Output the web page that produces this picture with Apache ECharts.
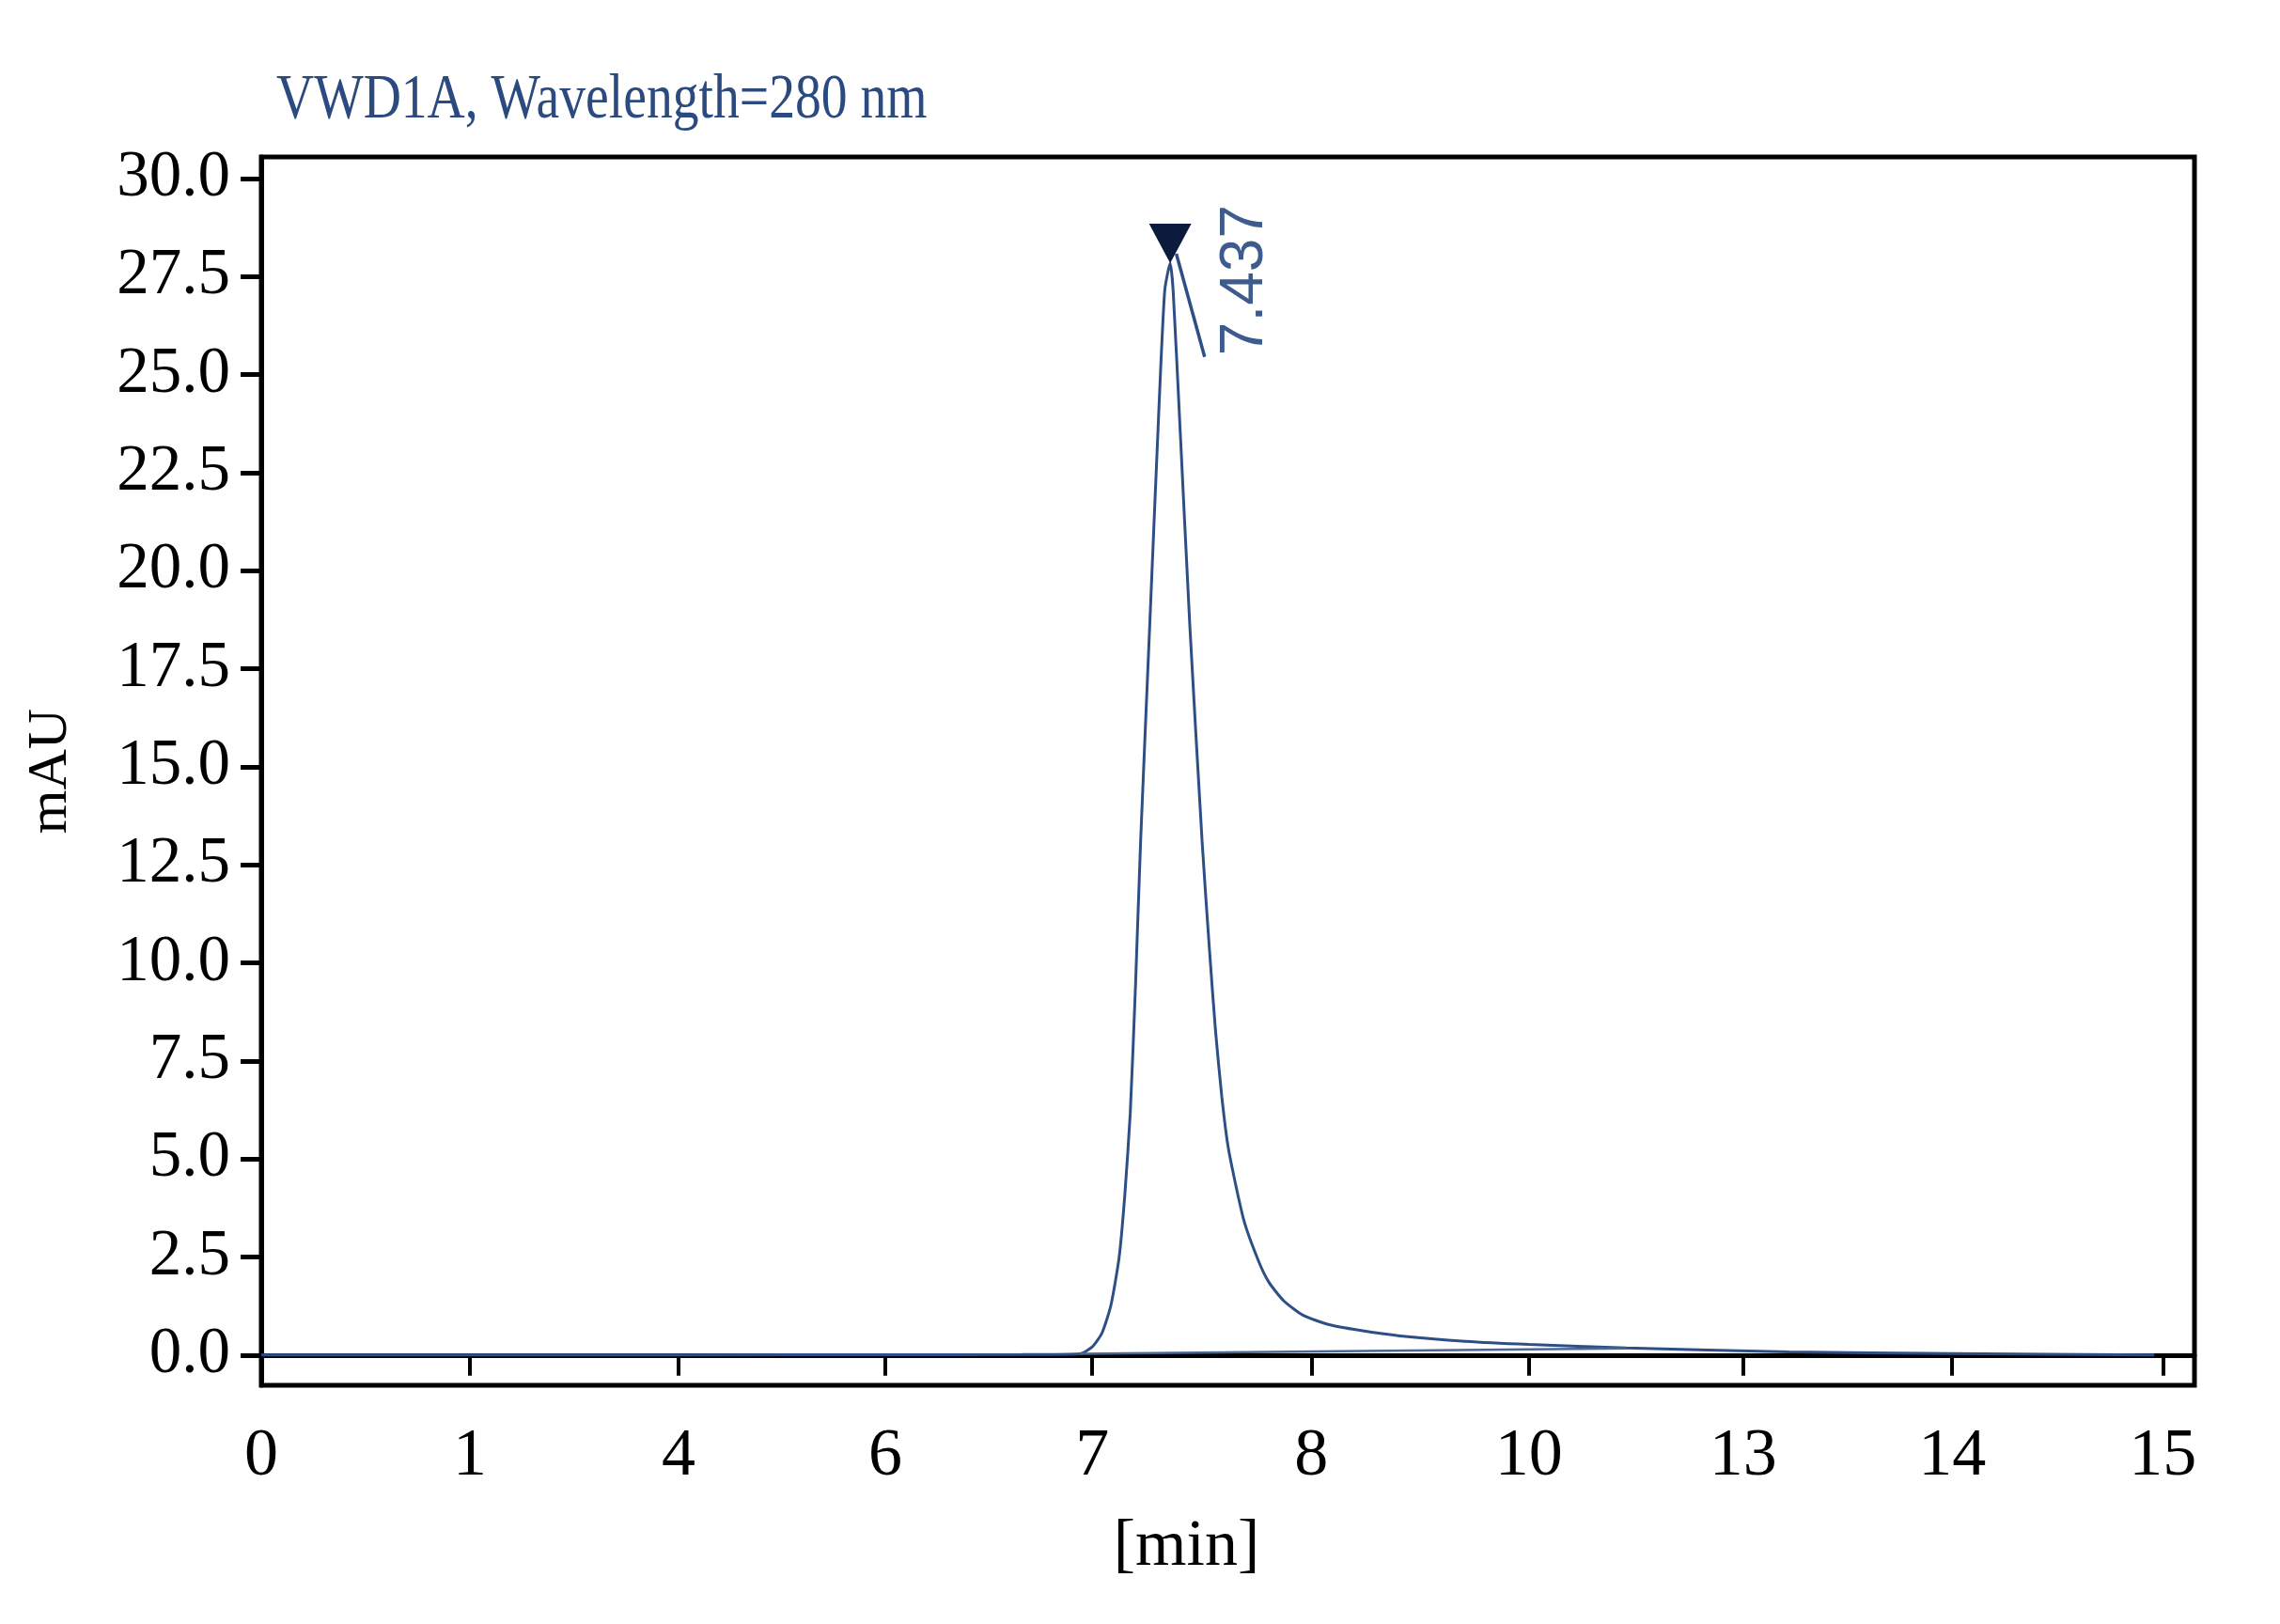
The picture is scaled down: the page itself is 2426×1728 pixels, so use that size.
<!DOCTYPE html>
<html lang="en">
<head>
    <meta charset="UTF-8">
    <title>VWD1A chromatogram</title>
    <script src="https://cdn.jsdelivr.net/npm/echarts@6/dist/echarts.min.js"></script>
    <style>
        html, body { margin: 0; padding: 0; background: #fff; }
        #main { width: 2426px; height: 1728px; }
    </style>
</head>
<body>
<div id="main"></div>
<script type="text/javascript">
    // x axis labels sit at (nearly) even spacing, so positions are in tick units
    var tickLabels = ['0', '1', '4', '6', '7', '8', '10', '13', '14', '15'];
    var tickPos = [0, 0.988, 1.975, 2.954, 3.933, 4.97, 5.999, 7.014, 8.003, 9.0];
    var yTicks = [0, 2.5, 5, 7.5, 10, 12.5, 15, 17.5, 20, 22.5, 25, 27.5, 30];

    // signal trace (mAU)
    var xPos = [0, 1.0, 2.0, 3.0, 3.6, 3.875, 3.933, 3.979, 4.021, 4.06, 4.087, 4.113, 4.138, 4.162,
        4.205, 4.247, 4.276, 4.302, 4.316, 4.346, 4.395, 4.453, 4.487, 4.516, 4.546, 4.578, 4.65,
        4.72, 4.77, 4.84, 4.93, 5.05, 5.2, 5.39, 5.7, 6.0, 6.46, 7.23, 8.0, 8.96];
    var signal = [0.0, 0.0, 0.005, 0.01, 0.015, 0.035, 0.21, 0.56, 1.26, 2.48, 4.07, 6.17, 9.45, 13.1,
        18.59, 23.93, 27.14, 27.84, 27.14, 23.93, 18.59, 13.1, 10.4, 8.3, 6.6, 5.25, 3.45,
        2.4, 1.85, 1.38, 1.02, 0.78, 0.63, 0.49, 0.35, 0.27, 0.18, 0.08, 0.04, 0.0];

    // integration baseline
    var baseX = [3.875, 6.46];
    var baseY = [0.035, 0.17];

    // peak annotation
    var peakX = 4.302, peakY = 27.84, peakLabel = '7.437';
    var markX = [4.331, 4.465];
    var markY = [28.08, 25.45];

    var lineColor = '#2e4f86';

    function zip(a, b) {
        var out = [];
        for (var i = 0; i < a.length; i++) out.push([a[i], b[i]]);
        return out;
    }

    var dom = document.getElementById('main');
    var myChart = echarts.init(dom);
    var option = {
        backgroundColor: '#fff',
        animation: false,
        grid: {
            left: 278, right: 91, top: 167, bottom: 254,
            show: true, borderColor: '#000', borderWidth: 5
        },
        xAxis: {
            type: 'value',
            min: 0,
            max: 9.15,
            name: '[min]',
            nameLocation: 'middle',
            nameGap: 138,
            nameTextStyle: {
                fontFamily: 'Liberation Serif', fontSize: 70, color: '#000',
                padding: [0, 88, 0, 0]
            },
            axisLine: { show: true, lineStyle: { color: '#000', width: 5 } },
            axisTick: {
                show: true, inside: false, length: 22,
                lineStyle: { color: '#000', width: 4 },
                customValues: tickPos
            },
            axisLabel: {
                margin: 40,
                fontFamily: 'Liberation Serif', fontSize: 72, color: '#000',
                customValues: tickPos,
                formatter: function (v) {
                    for (var i = 0; i < tickPos.length; i++) {
                        if (Math.abs(tickPos[i] - v) < 1e-6) return tickLabels[i];
                    }
                    return '';
                }
            },
            splitLine: { show: false }
        },
        yAxis: {
            type: 'value',
            min: -0.77,
            max: 30.55,
            name: 'mAU',
            nameLocation: 'middle',
            nameGap: 194,
            nameTextStyle: { fontFamily: 'Liberation Serif', fontSize: 60, color: '#000' },
            axisLine: { show: true, lineStyle: { color: '#000', width: 5 } },
            axisTick: {
                show: true, inside: false, length: 22,
                lineStyle: { color: '#000', width: 5 },
                customValues: yTicks
            },
            axisLabel: {
                margin: 33,
                fontFamily: 'Liberation Serif', fontSize: 69, color: '#000',
                customValues: yTicks,
                formatter: function (v) { return v.toFixed(1); }
            },
            splitLine: { show: false }
        },
        series: [
            {
                name: 'signal',
                type: 'line',
                data: zip(xPos, signal),
                showSymbol: false,
                smooth: 0.2,
                lineStyle: { color: lineColor, width: 3 },
                markPoint: {
                    symbol: 'triangle',
                    symbolRotate: 180,
                    symbolSize: [45, 42],
                    symbolOffset: [0, -21],
                    itemStyle: { color: '#0b1a3d' },
                    label: { show: false },
                    data: [{ coord: [peakX, peakY] }]
                }
            },
            {
                name: 'baseline',
                type: 'line',
                data: zip(baseX, baseY),
                showSymbol: false,
                lineStyle: { color: '#4a6796', width: 2.5 }
            },
            {
                name: 'peakmark',
                type: 'line',
                data: zip(markX, markY),
                showSymbol: false,
                lineStyle: { color: lineColor, width: 3.5 }
            }
        ]
    };
    myChart.setOption(option);

    // title and peak retention label
    var p = myChart.convertToPixel({ gridIndex: 0 }, [peakX, peakY]);
    myChart.setOption({
        graphic: [
            {
                type: 'text',
                x: 294,
                y: 74,
                scaleX: 0.83,
                style: {
                    text: 'VWD1A, Wavelength=280 nm',
                    fontFamily: 'Liberation Serif',
                    fontSize: 67,
                    fill: '#2b4a80',
                    textVerticalAlign: 'top'
                }
            },
            {
                type: 'text',
                x: p[0] + 80,
                y: p[1] + 18,
                rotation: Math.PI / 2,
                style: {
                    text: peakLabel,
                    fontFamily: 'Liberation Sans',
                    fontSize: 64,
                    fill: '#3d5b8c',
                    textAlign: 'center',
                    textVerticalAlign: 'middle'
                }
            }
        ]
    });
</script>
</body>
</html>
